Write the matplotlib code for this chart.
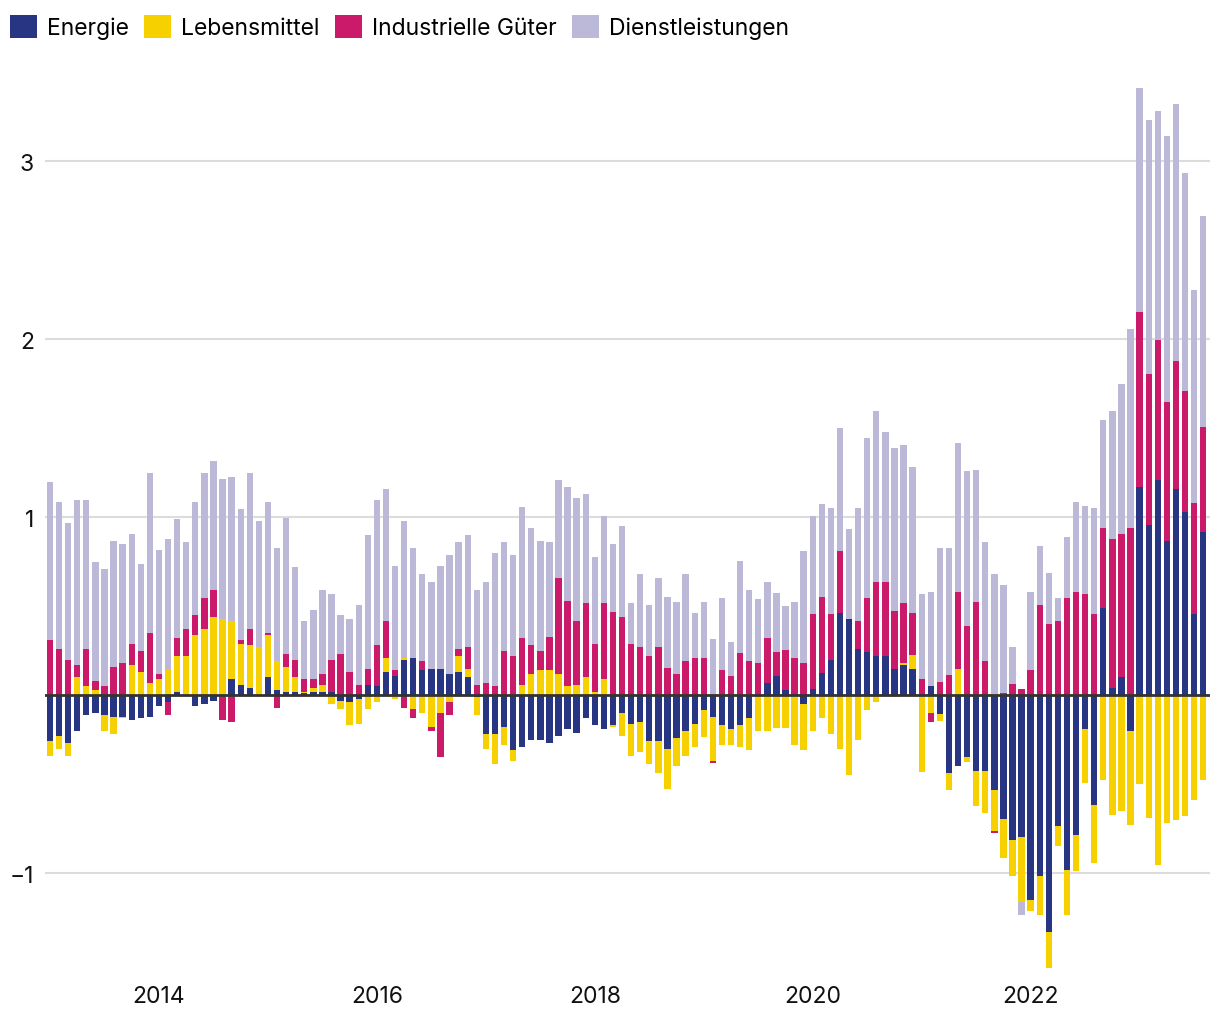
import numpy as np
import matplotlib
matplotlib.use("Agg")
import matplotlib.pyplot as plt
from matplotlib.patches import Patch

plt.rcParams['font.family'] = ['Inter', 'DejaVu Sans']

# Monthly data Jan 2013 .. Aug 2023 (contributions in percentage points)
months = np.arange(128)
series_names = ["Energie", "Lebensmittel", "Industrielle Güter", "Dienstleistungen"]
colors = ["#283583", "#f7d000", "#cc1a6b", "#bcb8d8"]

energie = [
    -0.257, -0.228, -0.27, -0.20, -0.112, -0.10, -0.112, -0.124, -0.124, -0.14, -0.129, -0.122,
    -0.062, -0.039, 0.017, 0.0, -0.062, -0.05, -0.034, 0.0, 0.09, 0.056, 0.039, 0.0,
    0.101, 0.028, 0.017, 0.017, 0.011, 0.017, 0.017, 0.017, -0.034, -0.039, -0.022, 0.056,
    0.05, 0.129, 0.107, 0.197, 0.208, 0.14, 0.146, 0.146, 0.118, 0.129, 0.101, -0.011,
    -0.219, -0.219, -0.18, -0.309, -0.292, -0.253, -0.253, -0.27, -0.23, -0.191, -0.213, -0.129,
    -0.169, -0.191, -0.169, -0.101, -0.163, -0.152, -0.26, -0.26, -0.305, -0.243, -0.204, -0.165,
    -0.081, -0.125, -0.17, -0.193, -0.17, -0.131, 0.0, 0.066, 0.105, 0.026, 0.009, -0.052,
    0.037, 0.127, 0.195, 0.464, 0.425, 0.257, 0.245, 0.217, 0.217, 0.144, 0.167, 0.144,
    0.009, 0.049, -0.104, -0.436, -0.401, -0.346, -0.425, -0.425, -0.532, -0.695, -0.814, -0.796,
    -1.151, -1.016, -1.331, -0.733, -0.981, -0.784, -0.192, -0.62, 0.488, 0.04, 0.10, -0.201,
    1.168, 0.956, 1.208, 0.864, 1.156, 1.027, 0.453, 0.915,
]
lebensmittel = [
    -0.084, -0.075, -0.071, 0.10, 0.05, 0.028, -0.088, -0.095, -0.006, 0.169, 0.129, 0.067,
    0.09, 0.14, 0.202, 0.219, 0.337, 0.371, 0.438, 0.427, 0.326, 0.23, 0.242, 0.27,
    0.236, 0.163, 0.14, 0.084, 0.006, 0.022, 0.039, -0.05, -0.045, -0.129, -0.14, -0.079,
    -0.039, 0.079, -0.022, 0.011, -0.079, -0.101, -0.18, -0.101, -0.039, 0.09, 0.045, -0.101,
    -0.084, -0.169, -0.101, -0.062, 0.056, 0.118, 0.14, 0.14, 0.118, 0.05, 0.056, 0.101,
    0.017, 0.09, -0.011, -0.129, -0.18, -0.169, -0.129, -0.18, -0.225, -0.157, -0.14, -0.129,
    -0.152, -0.247, -0.112, -0.09, -0.124, -0.18, -0.204, -0.204, -0.182, -0.182, -0.283, -0.258,
    -0.204, -0.131, -0.221, -0.305, -0.45, -0.25, -0.081, -0.041, 0.0, -0.011, 0.011, 0.084,
    -0.43, -0.10, -0.039, -0.096, 0.145, -0.027, -0.198, -0.237, -0.231, -0.219, -0.202, -0.364,
    -0.063, -0.219, -0.201, -0.117, -0.254, -0.207, -0.299, -0.321, -0.476, -0.671, -0.651, -0.528,
    -0.502, -0.689, -0.953, -0.72, -0.70, -0.68, -0.591, -0.476,
]
industrie = [
    0.309, 0.258, 0.197, 0.067, 0.208, 0.05, 0.05, 0.157, 0.18, 0.118, 0.118, 0.281,
    0.028, -0.073, 0.10, 0.152, 0.112, 0.174, 0.152, -0.14, -0.152, 0.022, 0.09, 0.0,
    0.011, -0.073, 0.073, 0.096, 0.073, 0.05, 0.062, 0.18, 0.23, 0.129, 0.056, 0.09,
    0.23, 0.208, 0.034, -0.073, -0.05, 0.05, -0.022, -0.247, -0.073, 0.039, 0.124, 0.056,
    0.067, 0.05, 0.247, 0.219, 0.264, 0.163, 0.107, 0.185, 0.539, 0.478, 0.36, 0.416,
    0.27, 0.427, 0.466, 0.438, 0.287, 0.27, 0.217, 0.268, 0.155, 0.116, 0.189, 0.206,
    0.206, -0.011, 0.139, 0.105, 0.234, 0.189, 0.178, 0.253, 0.14, 0.23, 0.197, 0.178,
    0.416, 0.427, 0.258, 0.348, 0.0, 0.157, 0.298, 0.416, 0.416, 0.331, 0.337, 0.236,
    0.079, -0.05, 0.076, 0.115, 0.432, 0.386, 0.526, 0.194, -0.01, 0.014, 0.065, 0.037,
    0.139, 0.505, 0.40, 0.417, 0.547, 0.581, 0.57, 0.457, 0.45, 0.835, 0.803, 0.938,
    0.984, 0.849, 0.786, 0.783, 0.72, 0.68, 0.626, 0.591,
]
dienstleistungen = [
    0.89, 0.828, 0.77, 0.927, 0.837, 0.669, 0.657, 0.708, 0.669, 0.618, 0.489, 0.899,
    0.697, 0.736, 0.669, 0.489, 0.635, 0.702, 0.725, 0.787, 0.809, 0.736, 0.876, 0.708,
    0.736, 0.635, 0.764, 0.522, 0.326, 0.388, 0.472, 0.371, 0.219, 0.298, 0.449, 0.753,
    0.815, 0.742, 0.584, 0.77, 0.618, 0.489, 0.489, 0.579, 0.669, 0.601, 0.629, 0.534,
    0.567, 0.747, 0.612, 0.567, 0.736, 0.657, 0.618, 0.534, 0.551, 0.64, 0.691, 0.612,
    0.489, 0.489, 0.382, 0.511, 0.23, 0.41, 0.287, 0.388, 0.399, 0.41, 0.494, 0.258,
    0.32, 0.318, 0.404, 0.191, 0.522, 0.404, 0.36, 0.315, 0.331, 0.242, 0.32, 0.629,
    0.551, 0.522, 0.601, 0.691, 0.511, 0.64, 0.899, 0.961, 0.848, 0.916, 0.888, 0.82,
    0.478, 0.528, 0.75, 0.71, 0.84, 0.873, 0.738, 0.665, 0.679, 0.603, 0.204, -0.074,
    0.438, 0.331, 0.288, 0.13, 0.344, 0.502, 0.491, 0.592, 0.608, 0.72, 0.844, 1.119,
    1.26, 1.429, 1.288, 1.495, 1.446, 1.228, 1.197, 1.185,
]

year_ticks = [12, 36, 60, 84, 108]
year_labels = ["2014", "2016", "2018", "2020", "2022"]
y_ticks = [-1, 1, 2, 3]
y_labels = ["\u22121", "1", "2", "3"]

fig = plt.figure(figsize=(12.2, 10.2), dpi=100)
ax = fig.add_axes([45 / 1220, 1 - 975 / 1020, 1165 / 1220, 900 / 1020])

data = [np.array(energie), np.array(lebensmittel), np.array(industrie), np.array(dienstleistungen)]
pos_bottom = np.zeros(len(months))
neg_bottom = np.zeros(len(months))
for vals, col, name in zip(data, colors, series_names):
    pos = np.where(vals > 0, vals, 0)
    neg = np.where(vals < 0, vals, 0)
    ax.bar(months, pos, bottom=pos_bottom, width=0.7, color=col, linewidth=0, zorder=2)
    ax.bar(months, neg, bottom=neg_bottom, width=0.7, color=col, linewidth=0, zorder=2)
    pos_bottom += pos
    neg_bottom += neg

ax.set_xlim(-0.55, 127.75)
ax.set_ylim(-1.567, 3.49)
for y in y_ticks:
    ax.axhline(y, color="#dcdcdc", lw=1.5, zorder=1)
ax.axhline(0, color="#333333", lw=2, zorder=3)

ax.set_yticks(y_ticks)
ax.set_yticklabels(y_labels)
ax.set_xticks(year_ticks)
ax.set_xticklabels(year_labels)
ax.tick_params(axis="both", length=0, labelsize=16.5, colors="#111111")
ax.tick_params(axis="y", pad=8)
ax.tick_params(axis="x", pad=8)
for s in ax.spines.values():
    s.set_visible(False)

handles = [Patch(facecolor=c, edgecolor="none") for c in colors]
fig.legend(handles, series_names, loc="upper left", bbox_to_anchor=(10 / 1220, 1 - 16 / 1020),
           ncol=4, frameon=False, fontsize=16.5, handlelength=1.18, handleheight=1.18,
           handletextpad=0.44, columnspacing=0.66, borderaxespad=0, borderpad=0)

fig.savefig("out.png", dpi=100)
